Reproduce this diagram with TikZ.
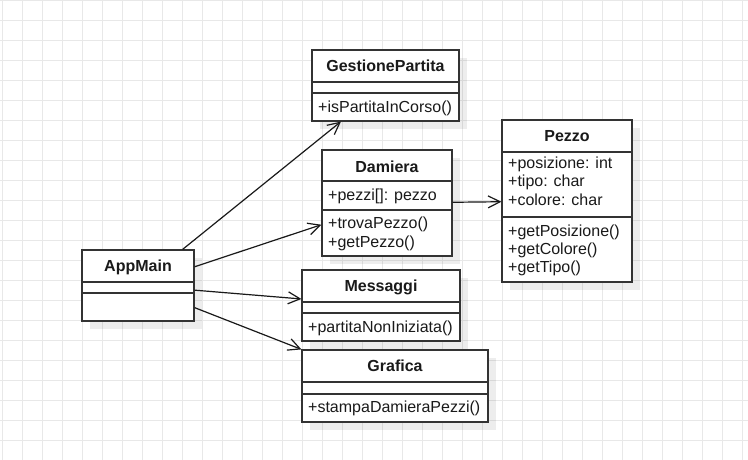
\documentclass[tikz,border=0pt]{standalone}
\usepackage{fontspec}
\setmainfont{Liberation Sans}
\usetikzlibrary{arrows.meta}
\definecolor{gridc}{HTML}{E8E8E8}
\definecolor{linec}{HTML}{333333}
\definecolor{txtc}{HTML}{1A1A1A}
\newcommand\umlclass[7]{%
  \fill[shadowbox] (#2+8,#3+8) rectangle (#4+8,#5+8);
  \node[cls, minimum width={(#4-#2)*1pt}, minimum height={(#5-#3)*1pt}] (#1) at ({(#2+#4)/2},{(#3+#5)/2}) {};
  \draw[sepline] (#2,#6) -- (#4,#6);
  \draw[sepline] (#2,#7) -- (#4,#7);
}
\begin{document}
\begin{tikzpicture}[x=1pt,y=-1pt,
  cls/.style={draw=linec, line width=1.2pt, fill=white, rectangle, inner sep=0pt},
  shadowbox/.style={fill=black, fill opacity=0.07},
  ttl/.style={font=\fontsize{16}{18.4}\selectfont\bfseries, anchor=base, inner sep=0pt, text=txtc},
  mem/.style={font=\fontsize{16}{18.4}\selectfont, anchor=base west, inner sep=0pt, text=txtc},
  sepline/.style={draw=linec, line width=1.2pt},
  assoc/.style={draw=black!90, line width=1.2pt, -{Straight Barb[length=12pt,width=12pt,line width=1.2pt]}}
]
\fill[white] (0,0) rectangle (748,460);
\useasboundingbox (0,0) rectangle (748,460);
\foreach \x in {0,...,37} \draw[gridc, line width=1pt] ({2.7+20*\x},0) -- ({2.7+20*\x},460);
\foreach \y in {0,...,22} \draw[gridc, line width=1pt] (0,{0.7+20*\y}) -- (748,{0.7+20*\y});

% classes
\umlclass{gp}{312}{50}{459}{121}{82}{93}
\umlclass{dam}{322}{150}{452}{256}{181}{210}
\umlclass{app}{82}{250}{194}{321}{282}{293}
\umlclass{msg}{302}{270}{460}{341}{302}{313}
\umlclass{gra}{302}{350}{488}{422}{382}{394}
\umlclass{pez}{502}{120}{632}{282}{152}{217}

% texts
\node[ttl] (gpT) at (385.5,72) {GestionePartita};
\node[mem] (gpM1) at (318,112.5) {+isPartitaInCorso()};

\node[ttl] (damT) at (387,172) {Damiera};
\node[mem] (damA1) at (328,200.5) {+pezzi[]: pezzo};
\node[mem] (damM1) at (328,228.5) {+trovaPezzo()};
\node[mem] (damM2) at (328,247) {+getPezzo()};

\node[ttl] (appT) at (138,271.7) {AppMain};

\node[ttl] (msgT) at (381,291.8) {Messaggi};
\node[mem] (msgM1) at (308,332.5) {+partitaNonIniziata()};

\node[ttl] (graT) at (395,371.8) {Grafica};
\node[mem] (graM1) at (308,412.5) {+stampaDamieraPezzi()};

\node[ttl] (pezT) at (567,141.8) {Pezzo};
\node[mem] (pezA1) at (508,168.5) {+posizione: int};
\node[mem] (pezA2) at (508,186.8) {+tipo: char};
\node[mem] (pezA3) at (508,205.1) {+colore: char};
\node[mem] (pezM1) at (508,236) {+getPosizione()};
\node[mem] (pezM2) at (508,254.3) {+getColore()};
\node[mem] (pezM3) at (508,272.6) {+getTipo()};

% connectors
\draw[assoc] (app) -- (gp);
\draw[assoc] (app) -- (dam);
\draw[assoc] (app) -- (msg);
\draw[assoc] (app) -- (gra);
\draw[assoc] (dam) -- (pez);
\end{tikzpicture}
\end{document}
